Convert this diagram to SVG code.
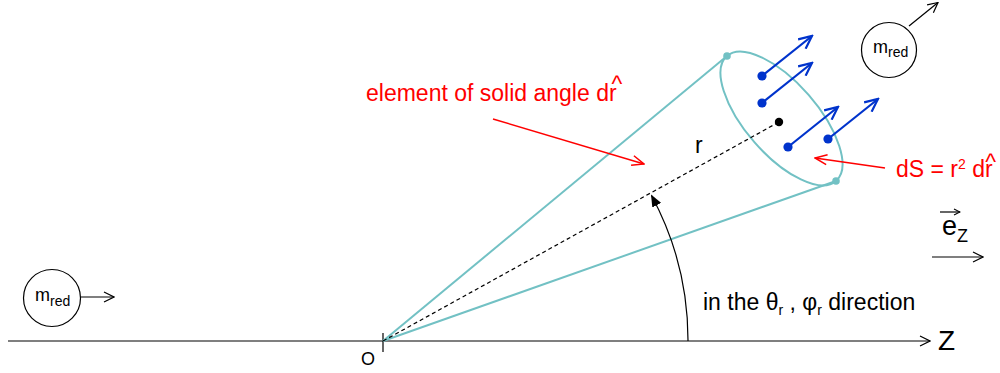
<svg xmlns="http://www.w3.org/2000/svg" width="1000" height="373" viewBox="0 0 1000 373">
<style>
text{font-family:"Liberation Sans",Arial,sans-serif}
.blk{stroke:#000;stroke-width:1.2;fill:none}
.cy{stroke:#72c1c4;stroke-width:2;fill:none}
.red{stroke:#ff0000;stroke-width:1.5;fill:none}
.blu{stroke:#0033cc;stroke-width:2.2;fill:none}
.rt{fill:#ff0000;font-size:23px}
.bt{fill:#000}
</style>
<defs>
<marker id="ab" viewBox="0 0 12 12" refX="11" refY="6" markerWidth="12" markerHeight="12" markerUnits="userSpaceOnUse" orient="auto"><path d="M1,1 L11,6 L1,11" fill="none" stroke="#000" stroke-width="1.2"/></marker>
<marker id="abs" viewBox="0 0 8 8" refX="7" refY="4" markerWidth="8" markerHeight="8" markerUnits="userSpaceOnUse" orient="auto"><path d="M1,1 L7,4 L1,7" fill="none" stroke="#000" stroke-width="1.1"/></marker>
<marker id="ar" viewBox="0 0 14 12" refX="13" refY="6" markerWidth="14" markerHeight="12" markerUnits="userSpaceOnUse" orient="auto"><path d="M1,1 L13,6 L1,11" fill="none" stroke="#ff0000" stroke-width="1.5"/></marker>
<marker id="au" viewBox="0 0 16 14" refX="14" refY="7" markerWidth="16" markerHeight="14" markerUnits="userSpaceOnUse" orient="auto"><path d="M1,1 L14,7 L1,13" fill="none" stroke="#0033cc" stroke-width="2.2"/></marker>
<marker id="af" viewBox="0 0 12 10" refX="11" refY="5" markerWidth="12" markerHeight="10" markerUnits="userSpaceOnUse" orient="auto"><path d="M0,0 L12,5 L0,10 z" fill="#000"/></marker>
</defs>
<rect width="1000" height="373" fill="#fff"/>

<g id="axis">
<line class="blk" x1="8" y1="341" x2="930" y2="341" marker-end="url(#ab)"/>
<line class="blk" x1="383" y1="333" x2="383" y2="352"/>
<text x="938" y="350" font-size="28" class="bt">Z</text>
<text x="361" y="365" font-size="18" class="bt">O</text>
</g>

<g id="cone">
<line class="cy" x1="383" y1="341" x2="727" y2="56"/>
<line class="cy" x1="383" y1="341" x2="836" y2="181"/>
<ellipse class="cy" cx="781.5" cy="118.5" rx="83" ry="36" transform="rotate(48.9 781.5 118.5)"/>
<circle cx="727" cy="56" r="3.8" fill="#72c1c4"/>
<circle cx="836" cy="181" r="3.8" fill="#72c1c4"/>
<circle cx="779" cy="122" r="4.2" fill="#000"/>
<text x="695" y="153" font-size="23" class="bt">r</text>
</g>

<g id="flux">
<circle cx="762" cy="76" r="4.6" fill="#0033cc"/>
<circle cx="762" cy="103" r="4.6" fill="#0033cc"/>
<circle cx="788" cy="147" r="4.6" fill="#0033cc"/>
<circle cx="828" cy="139" r="4.6" fill="#0033cc"/>
</g>

<g id="mred-top">
<circle class="blk" cx="889" cy="50" r="27.5"/>
<text x="873" y="53" font-size="18" class="bt">m<tspan font-size="14" dy="4">red</tspan></text>
</g>

<g id="mred-left">
<circle class="blk" cx="52" cy="298" r="28.5"/>
<text x="35" y="301" font-size="18" class="bt">m<tspan font-size="14" dy="5">red</tspan></text>
</g>

<g id="ez">
<text x="942" y="235" font-size="27" class="bt">e<tspan font-size="18" dy="7">Z</tspan></text>
</g>

<g id="labels">
<text x="366" y="101" class="rt">element of solid angle dr<tspan dx="-5" dy="-9">^</tspan></text>
<text x="896" y="177" class="rt">dS = r<tspan font-size="14" dy="-8">2</tspan><tspan dy="8"> dr</tspan><tspan dx="-7.5" dy="-7.5">^</tspan></text>
<text x="703" y="310" font-size="23" class="bt">in the θ<tspan font-size="14" dy="5">r</tspan><tspan dy="-5"> , φ</tspan><tspan font-size="14" dy="5">r</tspan><tspan dy="-5"> direction</tspan></text>
</g>

<g id="connectors">
<line class="blk" stroke-dasharray="4,3" x1="383" y1="341" x2="779" y2="122"/>
<path class="blk" d="M688,341 A305,305 0 0 0 651.5,195.5" marker-end="url(#af)"/>
<line class="red" x1="493" y1="119" x2="644" y2="164" marker-end="url(#ar)"/>
<line class="red" x1="885" y1="168" x2="815" y2="158" marker-end="url(#ar)"/>
<line class="blu" x1="762" y1="76" x2="812" y2="36" marker-end="url(#au)"/>
<line class="blu" x1="762" y1="103" x2="812" y2="63" marker-end="url(#au)"/>
<line class="blu" x1="788" y1="147" x2="838" y2="107" marker-end="url(#au)"/>
<line class="blu" x1="828" y1="139" x2="878" y2="99" marker-end="url(#au)"/>
<line class="blk" x1="909" y1="26" x2="938" y2="2.5" marker-end="url(#ab)"/>
<line class="blk" x1="81" y1="297" x2="114" y2="297" marker-end="url(#ab)"/>
<line class="blk" x1="932" y1="257" x2="983" y2="257" marker-end="url(#ab)"/>
<line class="blk" x1="940" y1="212" x2="960" y2="212" marker-end="url(#abs)"/>
</g>
</svg>
